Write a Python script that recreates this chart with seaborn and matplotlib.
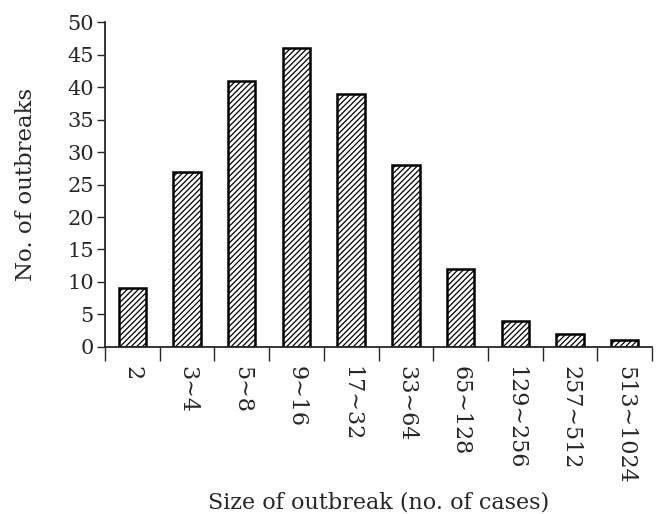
import numpy as np
import seaborn as sns
import matplotlib.pyplot as plt

sizes = ['2', '3∼4', '5∼8', '9∼16', '17∼32', '33∼64', '65∼128', '129∼256', '257∼512', '513∼1024']
counts = [9, 27, 41, 46, 39, 28, 12, 4, 2, 1]

sns.set_style('ticks')
plt.rcParams['font.family'] = ['DejaVu Serif', 'DejaVu Sans']
plt.rcParams['hatch.linewidth'] = 0.9

fig = plt.figure(figsize=(6.56, 5.14), dpi=100)
ax = fig.add_axes([0.160, 0.325, 0.834, 0.632])

sns.barplot(x=sizes, y=counts, color='white', edgecolor='black',
            linewidth=1.8, width=0.5, saturation=1, ax=ax)
for p in ax.patches:
    p.set_hatch('//////')

ax.set_xlim(-0.5, 9.5)
ax.set_ylim(0, 50)
ax.set_yticks(range(0, 51, 5))
ax.tick_params(axis='y', labelsize=15, length=6, width=1, direction='out', pad=2)

# tick marks between categories, labels at centres
ax.set_xticks(np.arange(-0.5, 10, 1), minor=True)
ax.tick_params(axis='x', which='minor', length=10, width=1, direction='out')
ax.tick_params(axis='x', which='major', length=0, pad=14)
ax.set_xticklabels(sizes, rotation=270, fontsize=16, va='top', ha='center')

sns.despine(ax=ax)
ax.spines['left'].set_linewidth(1.3)
ax.spines['bottom'].set_linewidth(1.3)

ax.set_ylabel('No. of outbreaks', fontsize=16.5)
ax.yaxis.set_label_coords(-0.124, 0.5)
ax.set_xlabel('Size of outbreak (no. of cases)', fontsize=16, labelpad=5)

fig.savefig('out.png', dpi=100)
